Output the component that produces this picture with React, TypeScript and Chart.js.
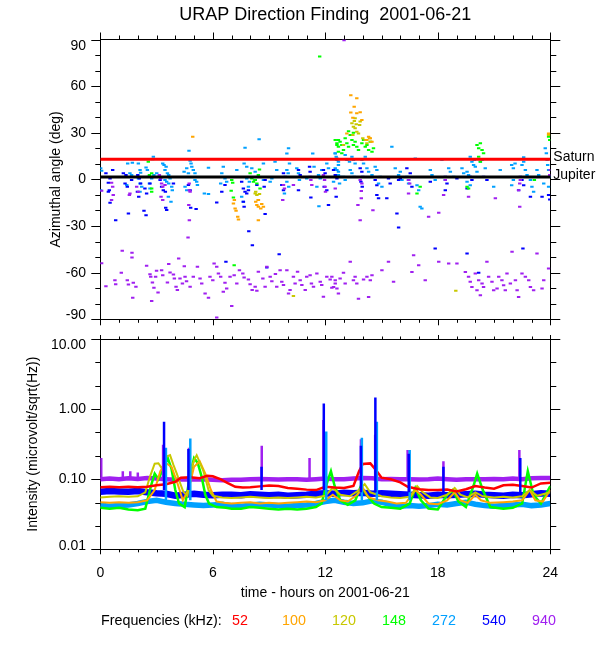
import React, { useEffect, useRef } from "react";
import { Chart, registerables } from "chart.js";

Chart.register(...registerables);

const FONT = "'Liberation Sans', Arial, Helvetica, sans-serif";

const titleText = "URAP Direction Finding  2001-06-21";
const xTitle = "time - hours on 2001-06-21";
const yTitleTop = "Azimuthal angle (deg)";
const yTitleBottom = "Intensity (microvolt/sqrt(Hz))";
const legendTitle = "Frequencies (kHz):";

const freqLabels = ["52", "100", "120", "148", "272", "540", "940"];
const freqColors = ["#ff0000", "#ffa500", "#c8c800", "#00ff00", "#00a0ff", "#0000ff", "#a020f0"];

const hourMinorTicks = [0, 1, 2, 3, 4, 5, 6, 7, 8, 9, 10, 11, 12, 13, 14, 15, 16, 17, 18, 19, 20, 21, 22, 23, 24];
const hourMajorTicks = [0, 6, 12, 18, 24];
const angleMinorTicks = [-90, -80, -70, -60, -50, -40, -30, -20, -10, 0, 10, 20, 30, 40, 50, 60, 70, 80, 90];
const angleMajorTicks = [-90, -60, -30, 0, 30, 60, 90];
const intensityMinorTicks = [0.01, 0.0215, 0.0464, 0.1, 0.215, 0.464, 1, 2.15, 4.64, 10];
const intensityMajorTicks = [0.01, 0.1, 1, 10];

const saturnAngle = 13;
const jupiterAngle = 1.5;

// ---- Azimuthal angle points [hour, degrees] ----
const az100 = [
  [4.93, 27.5], [7.1, -15.5], [7.19, -18.7], [7.24, -20.2], [7.33, -24], [7.37, -25.8], [8.35, -16.5], [8.43, -17.6],
  [8.56, -18.7], [8.61, -15.9], [8.7, -17.6], [8.43, -13.3], [8.29, -14.4], [8.43, -26.2], [7.15, -13.3], [13.36, 54.1],
  [13.68, 52.2], [13.54, 46.8], [13.86, 43.2], [13.68, 42.5], [13.36, 43], [13.95, 38.2], [13.47, 39.7], [14.31, 27.5],
  [14.4, 26.4], [14.22, 25.3], [14.49, 24.3], [13.15, 29.6], [23.91, 29.6],
];
const az120 = [
  [13.42, 36.1], [13.5, 33.9], [13.59, 32.9], [13.68, 30.7], [13.77, 29.6], [13.47, 28.6], [13.86, 37.2], [13.83, 35],
  [14, 26.4], [14.13, 25.3], [14.22, 23.2], [14.36, 26.4], [14.43, 24.3], [12.97, 22.1], [13.59, 39.3], [23.91, 28.5],
  [8.26, -9], [8.35, -10.1], [8.43, -13.3], [8.49, -9.4], [8.29, -7.9], [10.3, -75], [18.96, -71.7], [13.55, 37.5], [13.65, 35.5],
];
const az148 = [
  [2.62, 2.8], [2.74, 3.9], [2.83, 1.7], [2.74, -5.8], [2.74, -7.9], [2.56, 11.4], [7.01, -0.4], [7.06, -2.1], [6.98, -7.3],
  [7.1, -11.6], [7.99, 3.9], [8.08, 0.6], [8.17, -1.5], [8.26, -0.4], [8.35, -2.6], [8.43, 2.8], [8.49, 6.4], [8.52, -5.8],
  [7.14, -55.2], [12.62, 22.1], [12.7, 25.3], [11.7, 79], [12.53, 25.3], [12.62, 23.2], [12.7, 21], [12.79, 24.3],
  [12.88, 22.1], [12.97, 18.9], [13.06, 26.4], [13.15, 23.2], [13.24, 21], [13.33, 28.6], [13.42, 25.3], [13.5, 22.1],
  [13.59, 24.3], [13.68, 21], [13.77, 18.9], [13.95, 23.2], [14.04, 25.3], [14.13, 21], [14.22, 22.1], [14.31, 18.9],
  [14.4, 24.3], [14.49, 17.8], [14.57, 20], [12.7, 17.8], [12.88, 16.8], [13.24, 31], [13.5, 30], [17.06, -4.7], [16.89, -9],
  [19.56, -4.7], [19.64, -5.8], [20.09, 22.1], [20.18, 20], [20.27, 23.2], [20.36, 18.9], [20.44, 16.8], [20.18, 14.6],
  [20.27, 11.4], [23.91, 27.5], [23.97, 25.3], [23.15, -0.4],
];
const az272 = [
  [0.07, 5.6], [0.02, 7.1], [0.02, -6.9], [1.46, 10.3], [1.71, 10.7], [1.58, 3.9], [1.67, 2.8], [1.41, -3.6], [2.03, 10.3],
  [2.12, 6], [2.15, 4.3], [2.03, 0.6], [2.12, -2.6], [2.21, -4.7], [2.12, -7.9], [2.44, 7.7], [2.51, 6], [2.56, 1.7],
  [2.62, -2.6], [2.65, -5.8], [2.83, 14.6], [2.79, 12.9], [2.74, 0.6], [2.86, 2.8], [3.01, 3.9], [3.1, 1.7], [3.33, 10.3],
  [3.4, 9.2], [3.51, 8.2], [3.45, 6], [3.58, 3.9], [3.65, 2.8], [3.45, -0.4], [3.54, -1.5], [3.65, -2.6], [3.72, 0.6],
  [3.81, -4.7], [3.84, -6.9], [3.63, -11.2], [3.77, -14.4], [4.47, 4.9], [4.61, 7.1], [4.7, 3.9], [4.73, 18.5], [4.79, 12],
  [4.84, 10.3], [4.88, 8.2], [4.96, 6], [5.05, 3.9], [5.05, -0.4], [5.14, -1.5], [4.52, -4.7], [4.61, -6.9], [5.18, -3.6],
  [5.55, -9], [5.77, -9.4], [5.77, 7.5], [6.48, 3.9], [6.56, 8.2], [6.65, 0.6], [6.42, -2.6], [6.74, -1.5], [7.28, 6],
  [7.67, 10.3], [7.72, 20.4], [7.81, 8.2], [7.81, 0.6], [7.95, -1.5], [7.9, -4.7], [7.54, -11.2], [7.63, -14.4], [8.08, 7.1],
  [8.26, 4.9], [8.47, 25.8], [8.43, 1.7], [8.7, 10.3], [8.7, -0.4], [9.06, -1.5], [9.15, 0.6], [9.32, 11.4], [9.41, 6],
  [9.95, 16.7], [10.04, 20], [10.09, 10.3], [9.95, 6], [10.02, 3.9], [9.95, -1.5], [10.05, -4.7], [9.82, -9], [10.48, 7.1],
  [10.57, 3.9], [10.62, -0.4], [11.01, 0.6], [11.33, 16.7], [11.4, 8.2], [11.64, 2.8], [11.73, 0.6], [11.81, 6], [11.55, -4.7],
  [11.66, -17.2], [12.08, 10.3], [12.17, 7.1], [12.53, 16.7], [12.58, 14.6], [12.62, 12.4], [12.7, 9.2], [12.62, 6],
  [12.7, 2.8], [12.44, -1.5], [12.76, -2.6], [12.53, 16.8], [12.62, 13.5], [12.7, 11.4], [12.53, 7.1], [12.7, 4.9],
  [12.79, 1.7], [13.06, 15.7], [13.15, 12.5], [13.29, 11.4], [13.42, 14.6], [13.5, 12.5], [13.59, 10.3], [13.33, 6],
  [13.42, 3.9], [13.54, 1.7], [12.97, 1.7], [13.06, -0.4], [13.95, 12.5], [14.04, 10.3], [14.13, 14.6], [14.22, 7.1],
  [14.31, 4.9], [14.49, 2.8], [14.66, 8.2], [14.75, 6], [14.93, 1.7], [14.84, -2.6], [15.02, -4.7], [15.55, 21], [15.73, 7.1],
  [15.91, 2.8], [16, 4.9], [16.09, -0.4], [16.35, 1.7], [16.44, -2.6], [16.8, 13.5], [16.89, -3.7], [16.98, -6.9],
  [17.06, -17.6], [17.15, -18.7], [17.6, 6], [17.69, 2.8], [17.86, -0.4], [18.22, 12.5], [18.4, -0.4], [18.58, 7.1],
  [18.67, 4.9], [18.85, 1.7], [19.29, 7.1], [19.38, 3.9], [19.56, 4.9], [19.64, 2.8], [19.73, 14.6], [19.82, 11.4],
  [19.91, 9.2], [19.95, 12.5], [20, 8.2], [20.09, 4.9], [19.56, -1.5], [19.73, -3.7], [20.27, 11.4], [20.36, 12.5],
  [20.53, 7.1], [20.98, -4.7], [21.33, 6], [21.94, 9.2], [22.03, 7.1], [22.12, 10.3], [21.94, -3.7], [22.03, -0.4],
  [22.49, 9.2], [22.58, 11.4], [22.67, 6], [22.76, 2.8], [22.94, -0.4], [23.02, -4.7], [23.11, -7.9], [23.29, 6], [23.38, 2.8],
  [23.73, 20], [23.79, 16.8], [23.83, 12.5], [23.86, 9.2], [23.91, 6], [23.97, 1.7], [23.65, -2.6], [23.91, -4.7], [22.58, 14.2],
];
const az540 = [
  [0.3, 3.9], [0.52, 0.6], [0.66, 6], [0.43, -2.1], [0.48, -6.9], [0.52, -15], [0.82, -26.2], [1.23, 3.9], [1.37, 2.8],
  [1.32, -2.6], [1.44, -4.7], [1.5, -21.9], [1.67, -0.4], [2.0, 2.8], [2.08, 0.6], [2.15, -2.6], [1.98, -7.9], [2.05, -11.2],
  [2.38, -5.8], [2.47, -9], [2.33, -20.2], [2.44, -23], [2.65, -2.6], [3.19, -0.4], [3.27, -4.7], [3.36, -6.9], [3.47, -7.9],
  [3.49, -18.2], [3.54, -19.7], [3.9, -2.6], [4.7, -3.6], [4.79, -6.9], [4.82, -18.2], [5.11, -19.1], [6.21, -14.8],
  [6.48, -7.9], [6.65, -3.6], [7.54, -1.5], [7.63, -5.8], [7.72, -7.9], [7.81, -9], [7.9, -6.9], [7.63, -14.4], [7.67, -17.6],
  [7.92, -33.3], [8.11, -42.3], [8.26, -0.4], [8.35, -3.6], [8.79, -0.4], [8.74, -4.7], [8.79, -22.3], [9.54, -48.1],
  [9.77, 3.9], [9.86, 1.7], [9.68, -3.6], [9.77, -6.9], [10.57, 6], [10.66, 2.8], [10.57, -6.9], [11.16, 8.2], [11.19, 4.9],
  [11.23, -11.6], [11.9, 6], [11.99, 3.9], [11.94, -4.7], [12.08, -6.9], [12.17, -16.5], [12.53, 2.8], [12.62, 0.6],
  [12.58, -11.2], [6.7, -53], [8.88, -56.7], [0.43, -7.9], [12.44, 6], [13.86, 7.1], [13.95, 4.9], [14.0, 1.7], [13.9, -1.5],
  [13.97, -4.7], [14.75, -10.1], [14.84, -12.2], [14.66, -0.4], [14.75, -3.7], [15.37, 0.6], [15.46, -2.6], [15.28, -12.2],
  [15.91, -0.4], [16, 0.6], [15.82, -21.9], [15.91, -30.9], [16.35, 7.1], [16.53, 3.9], [16.44, -0.4], [16.62, -4.7],
  [17.6, -1.5], [17.86, -44.5], [18.4, 1.7], [18.49, -2.6], [18.4, -6.9], [19.02, 0.6], [19.56, -47.7], [19.73, 1.7],
  [19.82, -0.4], [19.56, -5.8], [20.44, 1.7], [20.62, -0.4], [22.4, 1.7], [22.49, -0.4], [22.58, -3.7], [22.31, -6.9],
  [22.54, -44.5], [22.94, -11.2], [23.56, -11.2], [23.91, -10.1], [23.97, -12.9], [20.18, -60.1],
];
const az940 = [
  [0.07, -54], [0.3, -68.7], [0.78, -64.8], [0.82, -67.4], [1.12, -60], [1.17, -45.9], [1.44, -64.8], [1.5, -67.6],
  [1.69, -47.2], [1.69, -50.2], [1.76, -66.5], [1.9, -69.1], [1.73, -76.2], [2.47, -55.6], [2.65, -61], [2.69, -62.7],
  [2.78, -66.3], [2.86, -69.7], [2.74, -78.3], [2.95, -62.7], [3.0, -58.8], [3.08, -72.7], [3.27, -58.4], [3.33, -61.6],
  [3.65, -54.5], [3.72, -59.9], [3.58, -66.3], [3.9, -61.2], [3.95, -63.7], [4.04, -69.1], [4.11, -71.2], [4.18, -50.9],
  [4.25, -63.7], [4.38, -67], [4.48, -55.8], [4.52, -62.7], [4.6, -65.5], [4.79, -69.1], [4.96, -62.7], [5.18, -56.2],
  [5.32, -63.7], [5.41, -67], [5.59, -73.4], [5.77, -76.2], [5.85, -62.7], [6.0, -64.8], [6.07, -54.1], [6.21, -56.2],
  [6.3, -60.5], [6.42, -62.7], [6.65, -66.5], [6.74, -70.2], [6.56, -72.3], [7.01, -81.5], [6.92, -62.7], [7.14, -61.6],
  [7.28, -67], [7.42, -58.4], [7.6, -60.5], [7.67, -63.1], [7.9, -64.4], [7.99, -67.4], [8.1, -71.2], [8.26, -69.1],
  [8.35, -71.7], [8.43, -59.4], [8.67, -63.7], [8.79, -69.1], [8.88, -56.2], [9.06, -62.7], [9.15, -65.5], [9.34, -60.9],
  [9.41, -69.1], [9.59, -58.4], [9.68, -65.9], [9.77, -68], [9.95, -58.4], [10.04, -73.4], [10.12, -71.2], [10.3, -62.7],
  [10.39, -67], [10.52, -59.4], [10.66, -64.8], [10.75, -68], [10.93, -71.2], [11.01, -62.7], [11.19, -61.6], [11.26, -67],
  [11.37, -69.1], [11.55, -60.5], [11.73, -65.9], [11.81, -68], [11.9, -75.5], [12.08, -62.7], [12.26, -64.4], [12.35, -69.7],
  [12.53, -67], [12.62, -70.2], [12.7, -73.4], [6.21, -88.8], [12.35, -62.7], [12.53, -64.9], [12.79, -63.8], [12.97, -60.1],
  [13.06, -67], [12.44, -69.2], [13.33, -53], [13.5, -64.9], [13.59, -62.7], [13.68, -67], [13.77, -76.7], [14.04, -64.4],
  [14.22, -62.7], [14.4, -64.9], [14.31, -75.6], [14.49, -61.6], [15.02, -58.4], [15.37, -53], [15.64, -65.9], [16.62, -59.5],
  [16.71, -48.8], [16.98, -55.2], [17.33, -64.9], [18.05, -53], [18.58, -54.1], [19.02, -54.1], [19.47, -59.5], [19.64, -62.7],
  [19.73, -65.9], [19.82, -69.2], [20, -60.6], [20.18, -64.9], [20.09, -71.3], [20.27, -74.5], [20.36, -67], [20.44, -69.2],
  [20.62, -53], [20.71, -62.7], [20.89, -65.9], [20.98, -71.3], [21.16, -70.2], [21.25, -62.7], [21.42, -64.9], [21.51, -68.1],
  [21.6, -71.3], [21.69, -60.6], [21.87, -67], [22.14, -64.9], [22.23, -71.3], [22.31, -75.6], [22.49, -60.6], [22.67, -62.7],
  [22.85, -64.9], [22.94, -69.2], [23.11, -71.3], [23.29, -47.7], [23.56, -70.2], [23.65, -64.9], [23.91, -57.3], [21.96, -46.6],
  [0.6, -2.1], [0.66, -4.7], [0.69, -10], [0.6, -13.3], [0.07, -7.3], [1.55, -10], [1.58, -9], [1.94, -4.7], [2.03, -7.9],
  [3.15, 2.8], [3.22, 0.6], [3.27, -2.6], [3.33, -4.7], [3.24, -11.2], [3.33, -13.3], [3.45, -3.6], [4.74, -2.6], [4.75, -6.9],
  [4.79, -7.9], [4.72, -16.5], [4.75, -26.2], [4.68, -37.3], [9.77, -3.6], [9.82, -5.8], [9.73, -13.3], [10.3, -3.6],
  [11.19, 1.7], [11.23, -0.4], [11.28, -3.6], [11.9, 2.8], [11.96, -0.4], [11.99, -4.7], [12.01, -7.9], [12.53, -5.8],
  [13.86, -0.4], [13.95, -2.6], [13.92, -12.2], [13.74, -16.5], [14.54, -19.8], [16.44, -0.4], [16.5, -2.6], [16.44, -9],
  [18.4, -0.4], [18.31, -10.1], [19.64, -11.2], [21.07, -12.2], [22.4, -0.4], [22.37, -2.6], [22.31, -6.9], [22.37, -17.6],
  [17.51, -24], [18.05, -21.5], [13.86, -26.2], [24, 6], [23.97, 2.8], [13.92, -7.5], [13.0, 89.5],
];

// ---- Intensity traces [hour, microvolt/sqrt(Hz)] ----
const int52 = [
  [0, 0.077], [0.5, 0.078], [1, 0.077], [1.5, 0.078], [2, 0.077], [2.5, 0.078], [3, 0.082], [3.5, 0.085], [4, 0.092],
  [4.3, 0.105], [4.8, 0.107], [5.3, 0.103], [5.7, 0.112], [6.0, 0.11], [6.4, 0.1], [6.8, 0.088], [7.2, 0.078], [7.6, 0.076],
  [8.0, 0.077], [8.5, 0.079], [9.0, 0.081], [9.5, 0.08], [10, 0.075], [10.5, 0.073], [11, 0.071], [11.5, 0.07], [12, 0.078],
  [12.5, 0.076], [13, 0.075], [13.5, 0.08], [13.8, 0.13], [14.0, 0.165], [14.4, 0.168], [14.7, 0.135], [15.0, 0.105],
  [15.5, 0.1], [16, 0.09], [16.4, 0.078], [17, 0.072], [17.5, 0.07], [18, 0.07], [18.5, 0.071], [19, 0.067], [19.5, 0.072],
  [20, 0.08], [20.5, 0.076], [21, 0.073], [21.5, 0.082], [22, 0.083], [22.5, 0.08], [23, 0.076], [23.5, 0.087], [24, 0.089],
];
const int100 = [
  [0, 0.047], [0.5, 0.046], [1, 0.047], [1.5, 0.046], [2, 0.047], [2.5, 0.05], [2.9, 0.07], [3.2, 0.13], [3.5, 0.17],
  [3.8, 0.15], [4.1, 0.09], [4.4, 0.05], [4.7, 0.07], [5.0, 0.15], [5.3, 0.18], [5.6, 0.12], [5.9, 0.07], [6.2, 0.048],
  [6.6, 0.046], [7, 0.045], [7.5, 0.046], [8, 0.047], [8.5, 0.045], [9, 0.046], [9.5, 0.045], [10, 0.046], [10.5, 0.047],
  [11, 0.048], [11.5, 0.047], [12, 0.05], [12.4, 0.06], [12.8, 0.05], [13.2, 0.048], [13.7, 0.06], [14, 0.075], [14.3, 0.055],
  [14.8, 0.05], [15.3, 0.048], [15.8, 0.045], [16.3, 0.046], [16.8, 0.07], [17.1, 0.06], [17.5, 0.045], [18, 0.044],
  [18.5, 0.05], [18.9, 0.065], [19.2, 0.05], [19.6, 0.046], [20, 0.06], [20.3, 0.05], [20.8, 0.046], [21.5, 0.047],
  [22, 0.048], [22.5, 0.05], [22.9, 0.07], [23.2, 0.05], [23.6, 0.048], [24, 0.07],
];
const int120 = [
  [0, 0.055], [0.5, 0.056], [1, 0.057], [1.5, 0.056], [2, 0.057], [2.4, 0.065], [2.65, 0.109], [2.9, 0.166], [3.1, 0.169],
  [3.28, 0.143], [3.4, 0.17], [3.54, 0.21], [3.72, 0.22], [3.9, 0.16], [4.08, 0.12], [4.25, 0.089], [4.43, 0.066],
  [4.65, 0.058], [4.88, 0.15], [5.05, 0.2], [5.14, 0.22], [5.32, 0.17], [5.5, 0.13], [5.64, 0.095], [5.77, 0.07], [6, 0.058],
  [6.5, 0.055], [7, 0.054], [7.5, 0.055], [8, 0.056], [8.5, 0.055], [9, 0.054], [9.5, 0.055], [10, 0.054], [10.5, 0.055],
  [11, 0.056], [11.5, 0.055], [12, 0.058], [12.4, 0.075], [12.8, 0.06], [13.3, 0.057], [13.8, 0.07], [14.1, 0.085],
  [14.4, 0.065], [15, 0.057], [15.5, 0.055], [16, 0.054], [16.5, 0.056], [16.9, 0.08], [17.2, 0.065], [17.6, 0.055],
  [18, 0.054], [18.5, 0.06], [18.9, 0.075], [19.2, 0.06], [19.6, 0.055], [20, 0.065], [20.4, 0.057], [21, 0.055],
  [21.5, 0.056], [22, 0.055], [22.5, 0.057], [22.9, 0.07], [23.3, 0.058], [24, 0.065],
];
const int148 = [
  [0, 0.039], [0.5, 0.038], [1, 0.039], [1.5, 0.037], [2, 0.036], [2.4, 0.038], [2.7, 0.08], [2.9, 0.12], [3.1, 0.1],
  [3.4, 0.15], [3.6, 0.2], [3.8, 0.14], [4.0, 0.07], [4.2, 0.045], [4.5, 0.04], [4.8, 0.12], [5.0, 0.2], [5.2, 0.17],
  [5.4, 0.11], [5.6, 0.06], [5.8, 0.045], [6.2, 0.04], [6.7, 0.039], [7, 0.038], [7.5, 0.038], [8, 0.04], [8.5, 0.039],
  [9, 0.038], [9.5, 0.037], [10, 0.038], [10.5, 0.037], [11, 0.038], [11.5, 0.04], [11.8, 0.045], [12.1, 0.09], [12.3, 0.13],
  [12.5, 0.08], [12.8, 0.05], [13.2, 0.043], [13.6, 0.05], [13.9, 0.08], [14.2, 0.06], [14.6, 0.045], [15, 0.04],
  [15.5, 0.039], [16, 0.038], [16.5, 0.045], [16.8, 0.075], [17.1, 0.05], [17.5, 0.038], [18, 0.037], [18.5, 0.06],
  [18.8, 0.07], [19.1, 0.048], [19.5, 0.04], [19.9, 0.08], [20.1, 0.12], [20.4, 0.07], [20.8, 0.04], [21.5, 0.038],
  [22, 0.039], [22.5, 0.045], [22.8, 0.13], [23.1, 0.06], [23.5, 0.045], [24, 0.08],
];
const int272 = [
  [0, 0.043], [0.5, 0.041], [1, 0.042], [1.5, 0.043], [2, 0.045], [2.5, 0.048], [3, 0.05], [3.5, 0.047], [4, 0.045],
  [4.5, 0.044], [5, 0.043], [5.5, 0.042], [6, 0.043], [6.5, 0.044], [7, 0.042], [7.5, 0.041], [8, 0.043], [8.5, 0.044],
  [9, 0.043], [9.5, 0.042], [10, 0.041], [10.5, 0.042], [11, 0.043], [11.5, 0.045], [12, 0.048], [12.5, 0.05], [13, 0.047],
  [13.5, 0.045], [14, 0.046], [14.5, 0.049], [15, 0.047], [15.5, 0.043], [16, 0.041], [16.5, 0.042], [17, 0.041],
  [17.5, 0.042], [18, 0.044], [18.5, 0.043], [19, 0.045], [19.5, 0.047], [20, 0.044], [20.5, 0.042], [21, 0.041],
  [21.5, 0.042], [22, 0.043], [22.5, 0.044], [23, 0.042], [23.5, 0.043], [24, 0.045],
];
const int540 = [
  [0, 0.066], [0.5, 0.068], [1, 0.067], [1.5, 0.066], [2, 0.068], [2.5, 0.065], [3, 0.063], [3.5, 0.062], [4, 0.058],
  [4.5, 0.06], [5, 0.062], [5.5, 0.06], [6, 0.059], [6.5, 0.06], [7, 0.06], [7.5, 0.059], [8, 0.061], [8.5, 0.06],
  [9, 0.059], [9.5, 0.06], [10, 0.058], [10.5, 0.059], [11, 0.06], [11.5, 0.062], [12, 0.063], [12.5, 0.062], [13, 0.064],
  [13.5, 0.063], [14, 0.064], [14.5, 0.062], [15, 0.063], [15.5, 0.062], [16, 0.061], [16.5, 0.06], [17, 0.059],
  [17.5, 0.058], [18, 0.06], [18.5, 0.059], [19, 0.06], [19.5, 0.061], [20, 0.062], [20.5, 0.06], [21, 0.059], [21.5, 0.058],
  [22, 0.06], [22.5, 0.059], [23, 0.061], [23.5, 0.063], [24, 0.062],
];
const int940 = [
  [0, 0.1], [0.5, 0.102], [1, 0.1], [1.5, 0.103], [2, 0.101], [2.5, 0.104], [3, 0.102], [3.5, 0.1], [4, 0.098], [4.5, 0.1],
  [5, 0.099], [5.5, 0.1], [6, 0.098], [6.5, 0.097], [7, 0.098], [7.5, 0.098], [8, 0.1], [8.5, 0.101], [9, 0.1], [9.5, 0.099],
  [10, 0.1], [10.5, 0.1], [11, 0.098], [11.5, 0.1], [12, 0.102], [12.5, 0.1], [13, 0.1], [13.5, 0.102], [14, 0.104],
  [14.5, 0.103], [15, 0.1], [15.5, 0.101], [16, 0.1], [16.5, 0.1], [17, 0.099], [17.5, 0.1], [18, 0.102], [18.5, 0.1],
  [19, 0.098], [19.5, 0.1], [20, 0.1], [20.5, 0.1], [21, 0.101], [21.5, 0.1], [22, 0.102], [22.5, 0.1], [23, 0.103],
  [23.5, 0.104], [24, 0.104],
];

// bursts: [hour, low, high]
const spike272 = [[3.5, 0.05, 0.28], [4.8, 0.05, 0.38], [12.05, 0.05, 0.48], [13.95, 0.05, 0.39], [14.75, 0.05, 0.66], [16.5, 0.05, 0.26]];
const spike540 = [[3.4, 0.07, 0.66], [4.7, 0.07, 0.27], [8.6, 0.07, 0.15], [11.92, 0.07, 1.2], [13.9, 0.065, 0.3], [14.67, 0.065, 1.46], [16.45, 0.065, 0.23], [18.3, 0.065, 0.15], [22.4, 0.065, 0.2]];
const spike940 = [[0.05, 0.1, 0.2], [1.2, 0.1, 0.13], [1.6, 0.1, 0.13], [2.0, 0.1, 0.125], [3.35, 0.1, 0.31], [4.73, 0.1, 0.28], [8.61, 0.1, 0.3], [11.16, 0.1, 0.2], [11.9, 0.1, 0.7], [13.9, 0.1, 0.37], [14.66, 0.1, 0.43], [16.39, 0.1, 0.26], [18.3, 0.1, 0.18], [22.35, 0.1, 0.26]];

// ---------------- helpers ----------------
const toXY = (arr: number[][]) => arr.map(([x, y]) => ({ x, y }));
const spikesXY = (arr: number[][]) => {
  const out: any[] = [];
  arr.forEach(([h, lo, hi]) => {
    out.push({ x: h, y: lo }, { x: h, y: hi }, { x: h, y: null });
  });
  return out;
};

const isIn = (list: number[], v: number) => list.some((m) => Math.abs(m - v) <= 1e-9 * Math.max(1, Math.abs(m)));

const tickPlugin = (id: string, defs: any[]) => ({
  id,
  afterDraw(chart: any) {
    const ctx = chart.ctx;
    const a = chart.chartArea;
    ctx.save();
    ctx.strokeStyle = "#000";
    ctx.lineWidth = 1;
    ctx.beginPath();
    defs.forEach((d) => {
      const s = chart.scales[d.scale];
      d.values.forEach((v: number) => {
        const len = isIn(d.majors, v) ? d.maj : d.min;
        const p = Math.round(s.getPixelForValue(v)) + 0.5;
        if (d.side === "left") {
          ctx.moveTo(a.left, p);
          ctx.lineTo(a.left - len, p);
        } else if (d.side === "right") {
          ctx.moveTo(a.right, p);
          ctx.lineTo(a.right + len, p);
        } else if (d.side === "top") {
          ctx.moveTo(p, a.top);
          ctx.lineTo(p, a.top - len);
        } else {
          ctx.moveTo(p, a.bottom);
          ctx.lineTo(p, a.bottom + len);
        }
      });
    });
    ctx.stroke();
    ctx.restore();
  },
});

const endShiftPlugin = (id: string, scaleId: string, firstDy: number, lastDy: number) => ({
  id,
  beforeDraw(chart: any) {
    const s = chart.scales[scaleId];
    if (!s || typeof s.getLabelItems !== "function") return;
    const items = s.getLabelItems();
    if (!items || !items.length || (items as any)._shifted) return;
    items[0].options.translation[1] += firstDy;
    items[items.length - 1].options.translation[1] += lastDy;
    (items as any)._shifted = true;
  },
});

const planetLabels = {
  id: "planetLabels",
  afterDraw(chart: any) {
    const ctx = chart.ctx;
    const a = chart.chartArea;
    const y = chart.scales.y;
    ctx.save();
    ctx.fillStyle = "#000";
    ctx.font = `14px ${FONT}`;
    ctx.textAlign = "left";
    ctx.textBaseline = "middle";
    ctx.fillText("Saturn", a.right + 3, y.getPixelForValue(saturnAngle) - 2);
    ctx.fillText("Jupiter", a.right + 3, y.getPixelForValue(jupiterAngle) - 2);
    ctx.restore();
  },
};

// tick marks are drawn by the plugin; tickLength only reserves the label offset
const gridLabelGap = (gap: number) => ({ display: false, drawTicks: true, tickLength: gap });
const borderBlack = { display: true, color: "#000", width: 1 };

const pointSet = (label: string, data: number[][], color: string, order: number) => ({
  label,
  data: toXY(data),
  showLine: false,
  pointStyle: "line",
  pointRadius: 1.7,
  pointBorderWidth: 2,
  borderColor: color,
  backgroundColor: color,
  order,
});

const bandSet = (label: string, data: number[][], color: string, width: number, order: number) => ({
  label,
  data: toXY(data),
  showLine: true,
  borderColor: color,
  backgroundColor: color,
  borderWidth: width,
  pointRadius: 0,
  tension: 0,
  order,
});

const spikeSet = (label: string, data: number[][], color: string, order: number) => ({
  label,
  data: spikesXY(data),
  showLine: true,
  spanGaps: false,
  borderColor: color,
  backgroundColor: color,
  borderWidth: 2.5,
  pointRadius: 0,
  order,
});

const TOP_H = 333;
const BOT_TOP = 320;
const BOT_H = 650 - BOT_TOP;

function topConfig(): any {
  return {
    type: "scatter",
    data: {
      datasets: [
        {
          label: "Saturn",
          data: [{ x: 0, y: saturnAngle }, { x: 24, y: saturnAngle }],
          showLine: true,
          borderColor: "#ff0000",
          borderWidth: 3,
          pointRadius: 0,
          order: 0,
        },
        {
          label: "Jupiter",
          data: [{ x: 0, y: jupiterAngle }, { x: 24, y: jupiterAngle }],
          showLine: true,
          borderColor: "#000000",
          borderWidth: 3,
          pointRadius: 0,
          order: 0,
        },
        pointSet("100", az100, freqColors[1], 1),
        pointSet("120", az120, freqColors[2], 2),
        pointSet("148", az148, freqColors[3], 3),
        pointSet("940", az940, freqColors[6], 4),
        pointSet("540", az540, freqColors[5], 5),
        pointSet("272", az272, freqColors[4], 6),
      ],
    },
    options: {
      animation: false,
      responsive: false,
      maintainAspectRatio: false,
      events: [],
      layout: { padding: 0, autoPadding: false },
      plugins: {
        legend: { display: false },
        tooltip: { enabled: false },
        title: {
          display: true,
          text: titleText,
          fullSize: false,
          color: "#000",
          font: { size: 18, weight: "normal", family: FONT },
          padding: { top: 4, bottom: 0 },
        },
      },
      scales: {
        x: {
          type: "linear",
          position: "bottom",
          min: 0,
          max: 24,
          grid: gridLabelGap(0),
          border: borderBlack,
          ticks: { display: false },
          afterFit: (s: any) => { s.height = TOP_H - 319.3; },
        },
        x2: {
          type: "linear",
          position: "top",
          min: 0,
          max: 24,
          grid: gridLabelGap(0),
          border: borderBlack,
          ticks: { display: false },
          afterFit: (s: any) => { s.height = 13.9; },
        },
        y: {
          type: "linear",
          position: "left",
          min: -90,
          max: 90,
          grid: gridLabelGap(14.3),
          border: borderBlack,
          ticks: { stepSize: 30, padding: 0, color: "#000", font: { size: 14, family: FONT }, callback: (v: any) => String(v) },
          title: { display: true, text: yTitleTop, color: "#000", font: { size: 14, family: FONT }, padding: { top: 48, bottom: 0 } },
          afterFit: (s: any) => { s.width = 100.3; },
        },
        yR: {
          type: "linear",
          position: "right",
          min: -90,
          max: 90,
          grid: gridLabelGap(0),
          border: borderBlack,
          ticks: { display: false },
          afterFit: (s: any) => { s.width = 49.7; },
        },
      },
    },
    plugins: [
      tickPlugin("ticksTop", [
        { scale: "y", side: "left", values: angleMinorTicks, majors: angleMajorTicks, maj: 9, min: 5 },
        { scale: "yR", side: "right", values: angleMinorTicks, majors: angleMajorTicks, maj: 10, min: 6 },
        { scale: "x2", side: "top", values: hourMinorTicks, majors: hourMajorTicks, maj: 7, min: 4 },
        { scale: "x", side: "bottom", values: hourMinorTicks, majors: hourMajorTicks, maj: 6, min: 3.5 },
      ]),
      endShiftPlugin("shiftTop", "y", -4, 7),
      planetLabels,
    ],
  };
}

function bottomConfig(): any {
  const plotTop = 339 - BOT_TOP;
  const plotBottom = 549.3 - BOT_TOP;
  return {
    type: "scatter",
    data: {
      datasets: [
        spikeSet("540 burst", spike540, freqColors[5], 0),
        spikeSet("272 burst", spike272, freqColors[4], 1),
        spikeSet("940 burst", spike940, freqColors[6], 2),
        bandSet("52", int52, freqColors[0], 2.5, 3),
        bandSet("120", int120, freqColors[2], 2, 4),
        bandSet("100", int100, freqColors[1], 2, 5),
        bandSet("148", int148, freqColors[3], 2.5, 6),
        bandSet("940", int940, freqColors[6], 4.5, 7),
        bandSet("540", int540, freqColors[5], 6.5, 8),
        bandSet("272", int272, freqColors[4], 5.5, 9),
      ],
    },
    options: {
      animation: false,
      responsive: false,
      maintainAspectRatio: false,
      events: [],
      layout: { padding: 0, autoPadding: false },
      plugins: { legend: { display: false }, tooltip: { enabled: false }, title: { display: false } },
      scales: {
        x: {
          type: "linear",
          position: "bottom",
          min: 0,
          max: 24,
          grid: gridLabelGap(15.6),
          border: borderBlack,
          ticks: { stepSize: 6, padding: 0, maxRotation: 0, autoSkip: false, color: "#000", font: { size: 14, family: FONT } },
          title: { display: true, text: xTitle, color: "#000", font: { size: 14, family: FONT }, padding: { top: 0, bottom: 48.6 } },
          afterFit: (s: any) => { s.height = BOT_H - plotBottom; },
        },
        x2: {
          type: "linear",
          position: "top",
          min: 0,
          max: 24,
          grid: gridLabelGap(0),
          border: borderBlack,
          ticks: { display: false },
          afterFit: (s: any) => { s.height = plotTop; },
        },
        y: {
          type: "logarithmic",
          position: "left",
          min: 0.01,
          max: 10,
          grid: gridLabelGap(14.3),
          border: borderBlack,
          afterBuildTicks: (s: any) => { s.ticks = intensityMajorTicks.map((v) => ({ value: v })); },
          ticks: { padding: 0, color: "#000", font: { size: 14, family: FONT }, callback: (v: any) => Number(v).toFixed(2) },
          title: { display: true, text: yTitleBottom, color: "#000", font: { size: 14, family: FONT }, padding: { top: 25, bottom: 0 } },
          afterFit: (s: any) => { s.width = 100.3; },
        },
        yR: {
          type: "logarithmic",
          position: "right",
          min: 0.01,
          max: 10,
          grid: gridLabelGap(0),
          border: borderBlack,
          ticks: { display: false },
          afterFit: (s: any) => { s.width = 49.7; },
        },
      },
    },
    plugins: [
      tickPlugin("ticksBottom", [
        { scale: "y", side: "left", values: intensityMinorTicks, majors: intensityMajorTicks, maj: 9, min: 5 },
        { scale: "yR", side: "right", values: intensityMinorTicks, majors: intensityMajorTicks, maj: 10, min: 6 },
        { scale: "x2", side: "top", values: hourMinorTicks, majors: hourMajorTicks, maj: 4, min: 2.5 },
        { scale: "x", side: "bottom", values: hourMinorTicks, majors: hourMajorTicks, maj: 5, min: 3 },
      ]),
      endShiftPlugin("shiftBottom", "y", -3.6, 5.7),
    ],
  };
}

export default function App() {
  const topRef = useRef<HTMLCanvasElement>(null);
  const botRef = useRef<HTMLCanvasElement>(null);

  useEffect(() => {
    Chart.defaults.font.family = FONT;
    Chart.defaults.color = "#000";
    const a = new Chart(topRef.current as HTMLCanvasElement, topConfig());
    const b = new Chart(botRef.current as HTMLCanvasElement, bottomConfig());
    return () => {
      a.destroy();
      b.destroy();
    };
  }, []);

  return (
    <div style={{ position: "absolute", left: 0, top: 0, width: 600, height: 650, background: "#fff", fontFamily: FONT, color: "#000" }}>
      <canvas ref={topRef} width={600} height={TOP_H} style={{ position: "absolute", left: 0, top: 0, width: 600, height: TOP_H }} />
      <canvas ref={botRef} width={600} height={BOT_H} style={{ position: "absolute", left: 0, top: BOT_TOP, width: 600, height: BOT_H }} />
      <div style={{ position: "absolute", left: 0, top: 611, width: 600, height: 18, fontSize: 14.3, lineHeight: "18px", whiteSpace: "nowrap" }}>
        <span style={{ position: "absolute", left: 101 }}>{legendTitle}</span>
        {freqLabels.map((f, i) => (
          <span key={f} style={{ position: "absolute", left: 232 + 50 * i, color: freqColors[i] }}>
            {f}
          </span>
        ))}
      </div>
    </div>
  );
}
